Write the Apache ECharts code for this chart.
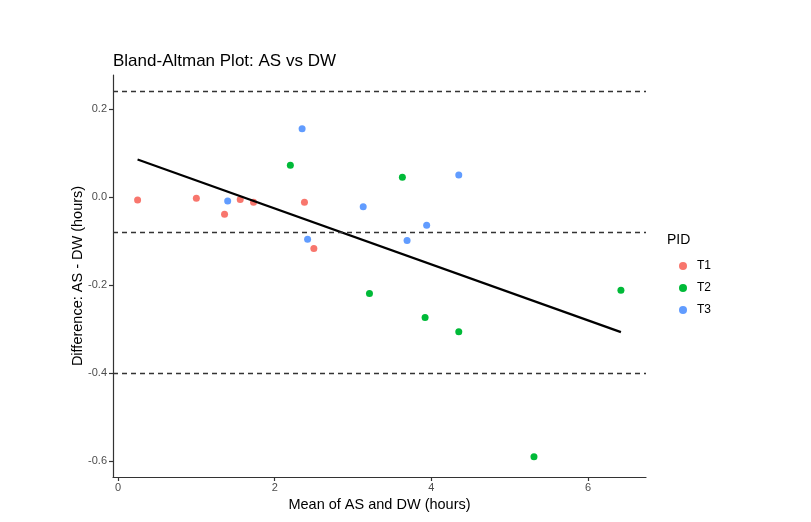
<!DOCTYPE html>
<html>
<head>
<meta charset="utf-8">
<script src="https://cdn.jsdelivr.net/npm/echarts@6/dist/echarts.min.js"></script>
<style>
  html, body { margin: 0; padding: 0; background: #fff; }
  #chart { width: 811px; height: 522px; }
</style>
</head>
<body>
<div id="chart"></div>
<script>
// values
const groups = ["T1", "T2", "T3"];
const groupColors = ["#F8766D", "#00BA38", "#619CFF"];

const meanT1 = [0.25, 1.0, 1.36, 1.56, 1.73, 2.38, 2.5];
const diffT1 = [-0.007, -0.003, -0.039, -0.006, -0.012, -0.012, -0.117];

const meanT2 = [2.2, 3.21, 3.63, 3.92, 4.35, 5.31, 6.42];
const diffT2 = [0.072, -0.219, 0.045, -0.274, -0.306, -0.59, -0.212];

const meanT3 = [1.4, 2.35, 2.42, 3.13, 3.69, 3.94, 4.35];
const diffT3 = [-0.009, 0.155, -0.096, -0.022, -0.099, -0.064, 0.05];

// fitted trend (endpoints) and limits of agreement
const trendX = [0.25, 6.42];
const trendY = [0.085, -0.307];
const limits = [0.237, -0.084, -0.404];

const xTicks = [0, 2, 4, 6];
const yTicks = [-0.6, -0.4, -0.2, 0.0, 0.2];

function pairs(xs, ys) {
  return xs.map((x, i) => [x, ys[i]]);
}

const seriesMeans = [meanT1, meanT2, meanT3];
const seriesDiffs = [diffT1, diffT2, diffT3];

const chart = echarts.init(document.getElementById("chart"));
const font = "Liberation Sans, Arial, sans-serif";

const scatterSeries = groups.map((name, i) => ({
  name,
  type: "scatter",
  symbolSize: 7,
  itemStyle: { color: groupColors[i], opacity: 1 },
  data: pairs(seriesMeans[i], seriesDiffs[i]),
  z: 3
}));

chart.setOption({
  backgroundColor: "#fff",
  animation: false,
  textStyle: { fontFamily: font },
  title: [
    {
      text: "Bland-Altman Plot: AS vs DW",
      left: 108,
      top: 48,
      textStyle: { fontSize: 17, fontWeight: "normal", color: "#000", fontFamily: font }
    },
    {
      text: "PID",
      left: 662,
      top: 228,
      textStyle: { fontSize: 14, fontWeight: "normal", color: "#000", fontFamily: font }
    }
  ],
  legend: {
    data: groups,
    orient: "vertical",
    left: 674,
    top: 255,
    icon: "circle",
    itemWidth: 8,
    itemHeight: 8,
    itemGap: 10,
    textStyle: { fontSize: 12, color: "#000", fontFamily: font, padding: [0, 0, 0, 5] }
  },
  grid: { left: 113, right: 165, top: 75, bottom: 45 },
  xAxis: {
    type: "value",
    min: -0.064,
    max: 6.74,
    name: "Mean of AS and DW (hours)",
    nameLocation: "middle",
    nameGap: 18,
    nameTextStyle: { fontSize: 14.5, color: "#000", fontFamily: font },
    splitLine: { show: false },
    axisLine: { onZero: false, lineStyle: { color: "#333", width: 1.2 } },
    axisTick: { customValues: xTicks, length: 4, lineStyle: { color: "#333", width: 1.2 } },
    axisLabel: { customValues: xTicks, color: "#4D4D4D", fontSize: 11, margin: 5, fontFamily: font }
  },
  yAxis: {
    type: "value",
    min: -0.636,
    max: 0.277,
    name: "Difference: AS - DW (hours)",
    nameLocation: "middle",
    nameGap: 28,
    nameMoveOverlap: false,
    nameTextStyle: { fontSize: 14.5, color: "#000", fontFamily: font },
    splitLine: { show: false },
    axisLine: { show: true, onZero: false, lineStyle: { color: "#333", width: 1.2 } },
    axisTick: { show: true, customValues: yTicks, length: 4, lineStyle: { color: "#333", width: 1.2 } },
    axisLabel: {
      customValues: yTicks,
      color: "#4D4D4D",
      fontSize: 11,
      margin: 6,
      fontFamily: font,
      formatter: (v) => v.toFixed(1)
    }
  },
  series: [
    {
      name: "limits",
      type: "line",
      data: [],
      silent: true,
      markLine: {
        silent: true,
        symbol: "none",
        label: { show: false },
        lineStyle: { color: "#333", width: 1.3, type: [5, 4] },
        data: limits.map((v) => ({ yAxis: v }))
      }
    },
    {
      name: "trend",
      type: "line",
      data: pairs(trendX, trendY),
      showSymbol: false,
      symbol: "none",
      lineStyle: { color: "#000", width: 2.2 },
      z: 4
    },
    ...scatterSeries
  ]
});
</script>
</body>
</html>
